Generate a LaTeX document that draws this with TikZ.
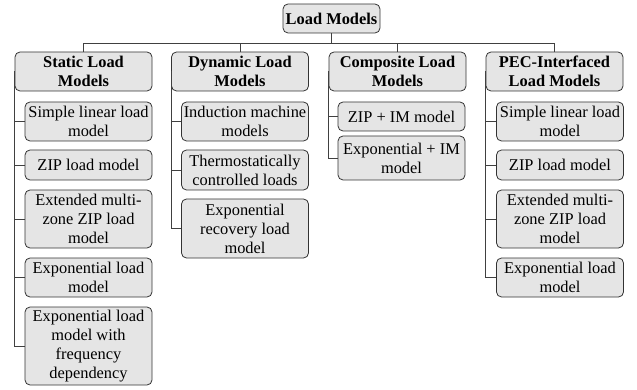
\documentclass[tikz,border=0pt]{standalone}
\usepackage{fontspec}
\setmainfont{Liberation Serif}

\begin{document}
\begin{tikzpicture}[x=1pt, y=-1pt,
    box/.style={draw=black!80, fill=gray!20, rounded corners=5pt, line width=0.8pt,
        align=center, inner sep=1pt, font=\fontsize{16.4}{19}\selectfont},
    head/.style={box, minimum width=137pt, minimum height=39pt,
        font=\fontsize{16.4}{19}\selectfont\bfseries},
    leaf/.style={box, minimum width=127pt},
    link/.style={draw=black!75, line width=0.8pt}
]
    \useasboundingbox (0,0) rectangle (637,390);
    \node[box, minimum width=97pt, minimum height=29pt, font=\fontsize{16.4}{19}\selectfont\bfseries] (root) at (331.5,18.5) {Load Models};
    \node[head] (stat) at (83.5,71.5) {Static Load\\Models};
    \node[head] (dyn) at (240,71.5) {Dynamic Load\\Models};
    \node[head] (comp) at (397.5,71.5) {Composite Load\\Models};
    \node[head] (pec) at (554.5,71.5) {PEC-Interfaced\\Load Models};
    \node[leaf, minimum height=39pt] (s1) at (88.5,121.5) {Simple linear load\\model};
    \node[leaf, minimum height=30pt] (s2) at (88.5,165) {ZIP load model};
    \node[leaf, minimum height=58pt] (s3) at (88.5,219) {Extended multi-\\zone ZIP load\\model};
    \node[leaf, minimum height=39pt] (s4) at (88.5,277.5) {Exponential load\\model};
    \node[leaf, minimum height=78pt] (s5) at (88.5,346) {Exponential load\\model with\\frequency\\dependency};
    \node[leaf, minimum height=39pt] (d1) at (245,121.5) {Induction machine\\models};
    \node[leaf, minimum height=40pt] (d2) at (245,170) {Thermostatically\\controlled loads};
    \node[leaf, minimum height=59pt] (d3) at (245,228.5) {Exponential\\recovery load\\model};
    \node[leaf, minimum height=29pt] (c1) at (401.5,116.5) {ZIP + IM model};
    \node[leaf, minimum height=44pt] (c2) at (401.5,158) {Exponential + IM\\model};
    \node[leaf, minimum height=39pt] (p1) at (560,121.5) {Simple linear load\\model};
    \node[leaf, minimum height=30pt] (p2) at (560,165) {ZIP load model};
    \node[leaf, minimum height=58pt] (p3) at (560,219) {Extended multi-\\zone ZIP load\\model};
    \node[leaf, minimum height=39pt] (p4) at (560,277.5) {Exponential load\\model};
    \foreach \h in {stat,dyn,comp,pec}
        \draw[link] (root.south) -- ++(0,10) -| (\h.north);
    \foreach \c in {s1,s2,s3,s4,s5}
        \draw[link] (stat.west) |- (\c.west);
    \foreach \c in {d1,d2,d3}
        \draw[link] (dyn.west) |- (\c.west);
    \foreach \c in {c1,c2}
        \draw[link] (comp.west) |- (\c.west);
    \foreach \c in {p1,p2,p3,p4}
        \draw[link] (pec.west) |- (\c.west);
\end{tikzpicture}
\end{document}
